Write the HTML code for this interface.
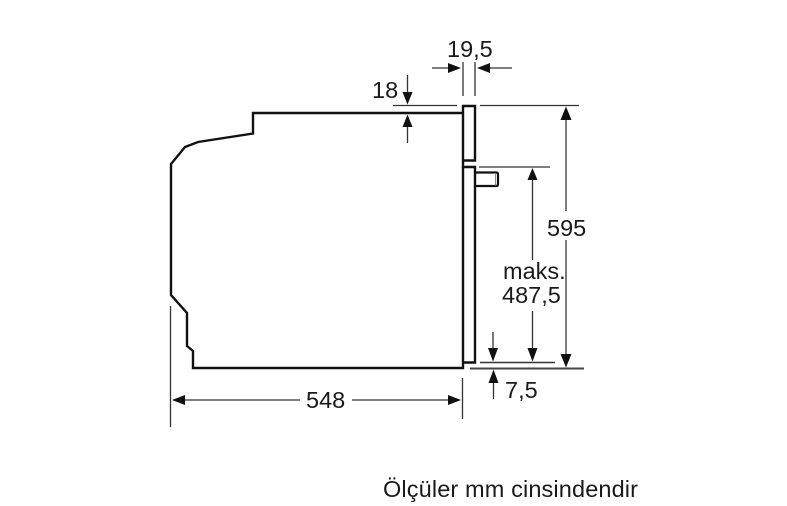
<!DOCTYPE html>
<html>
<head>
<meta charset="utf-8">
<style>
html,body{margin:0;padding:0;background:#fff;width:787px;height:506px;overflow:hidden}
svg{display:block}
text{font-family:"Liberation Sans",sans-serif;font-size:23.5px;fill:#1a1a1a}
</style>
</head>
<body>
<svg width="787" height="506" viewBox="0 0 787 506" xmlns="http://www.w3.org/2000/svg">
<rect width="787" height="506" fill="#fff"/>
<!-- Oven outline -->
<g fill="none" stroke="#111" stroke-width="2.4" stroke-linejoin="miter">
<path d="M463 113H253V133.5L198 142L185 147L171 164V295L187 313V346L193 351V368H463V362.5H475V167H463V160.5H475V106H463V160"/>
<path d="M463 167V362"/>
<path d="M475 172.5H496.5Q498 172.5 498 174.5V184Q498 186 496.5 186H475" stroke-width="2.2"/>
<path d="M495.5 173V185.5" stroke="#888" stroke-width="1"/>
</g>
<!-- Dimension lines -->
<g fill="none" stroke="#333" stroke-width="1.3">
<path d="M463 62V96M475 62V96"/>
<path d="M432 68H450M512 68H488"/>
<path d="M393 105.5H457M480 105.5H579"/>
<path d="M407.5 75V95M407.5 143V124"/>
<path d="M479 167H550"/>
<path d="M566 118V211M566 240V356"/>
<path d="M532.5 178V260M532.5 311V350"/>
<path d="M480 362.5H555" stroke-width="1.5"/>
<path d="M470 368.5H584" stroke="#444" stroke-width="1.9"/>
<path d="M493 332V351M493.5 399V381"/>
<path d="M170.5 306V427M462.5 378V419"/>
<path d="M182 400H300M352 400H452"/>
</g>
<!-- Arrowheads -->
<g fill="#111">
<path d="M461 68L448 63V73Z"/>
<path d="M477 68L490 63V73Z"/>
<path d="M407.5 104.5L402.5 92H412.5Z"/>
<path d="M407.5 114.5L402.5 127H412.5Z"/>
<path d="M566 106.5L560.5 120H571.5Z"/>
<path d="M566 367.5L560.5 354H571.5Z"/>
<path d="M532.5 168L527.5 180H537.5Z"/>
<path d="M532.5 361.5L527.5 348H537.5Z"/>
<path d="M493 361.5L488 348H498Z"/>
<path d="M493.5 369.5L488.5 383H498.5Z"/>
<path d="M172 400L185 395V405Z"/>
<path d="M461 400L448 395V405Z"/>
</g>
<!-- Labels -->
<text x="447" y="57">19,5</text>
<text x="372" y="98">18</text>
<text x="547" y="236">595</text>
<text x="503" y="279">maks.</text>
<text x="502" y="303">487,5</text>
<text x="505" y="398">7,5</text>
<text x="306" y="408">548</text>
<text x="383" y="497" textLength="255" lengthAdjust="spacing">Ölçüler mm cinsindendir</text>
</svg>
</body>
</html>
